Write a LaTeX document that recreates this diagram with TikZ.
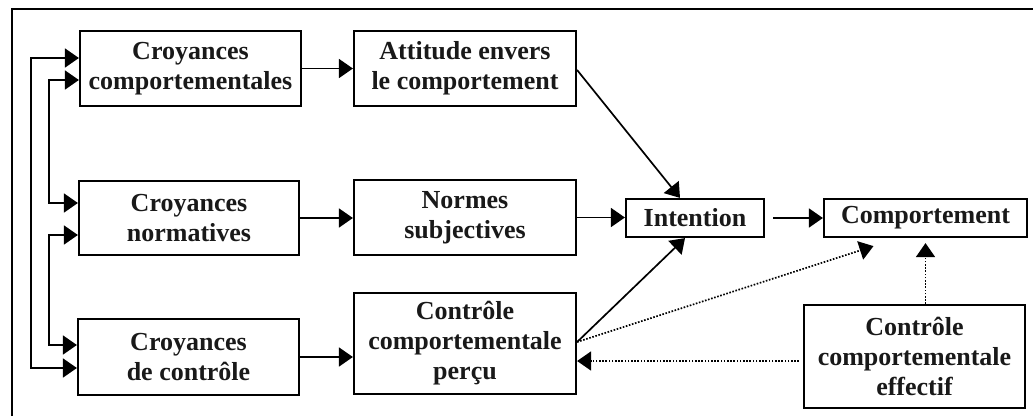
\documentclass[tikz,border=0pt]{standalone}
\usepackage{fontspec}
\setmainfont{Liberation Serif}
\usetikzlibrary{arrows.meta,calc}
\begin{document}
\begin{tikzpicture}[x=1pt,y=-1pt,
  box/.style={draw, line width=2.2pt, align=center, inner sep=0pt,
    font=\fontsize{26}{30}\selectfont\bfseries, text=black!90},
  arr/.style={line width=1.7pt, -{Triangle[length=14pt,width=19pt]}},
  biarr/.style={line width=1.7pt, {Triangle[length=14pt,width=19pt]}-{Triangle[length=14pt,width=19pt]}},
  dotarr/.style={line width=1.7pt, dash pattern=on 1.6pt off 1.6pt, -{Triangle[length=14pt,width=19pt]}}]
\useasboundingbox (0,0) rectangle (1033,416);
\fill[white] (0,0) rectangle (1033,416);
% frame
\draw[line width=2.2pt] (12,416) -- (12,9) -- (1033,9);
% nodes
\node[box, minimum width=221pt, minimum height=75pt] (CB) at (190.5,68.5) {Croyances\\comportementales};
\node[box, minimum width=220pt, minimum height=74pt] (CN) at (189,218) {Croyances\\normatives};
\node[box, minimum width=221pt, minimum height=76pt] (CC) at (188.5,357) {Croyances\\de contrôle};
\node[box, minimum width=222pt, minimum height=75pt] (AT) at (465,68.5) {Attitude envers\\le comportement};
\node[box, minimum width=222pt, minimum height=75pt] (NS) at (465,217.5) {Normes\\subjectives};
\node[box, minimum width=222pt, minimum height=101pt] (CP) at (465,343.5) {Contrôle\\comportementale\\perçu};
\node[box, minimum width=138pt, minimum height=38pt] (IN) at (695,218) {Intention};
\node[box, minimum width=203pt, minimum height=38pt] (CO) at (925.5,218) {Comportement};
\node[box, minimum width=221pt, minimum height=103pt] (EF) at (914.5,356.5) {Contrôle\\comportementale\\effectif};
% helper coordinates
\coordinate (efw) at ($(EF.west)+(-4,4.5)$);
\coordinate (cpe) at ($(CP.east)+(0,-1.5)$);
% left connectors
\draw[biarr] ($(CB.west)+(0,-10.5)$) -- ++(-48,0) |- ($(CC.west)+(0,11)$);
\draw[biarr] ($(CB.west)+(0,11.5)$) -- ++(-30,0) |- ($(CN.west)+(0,-15)$);
\draw[biarr] ($(CN.west)+(0,17)$) -- ++(-29,0) |- ($(CC.west)+(0,-12)$);
% horizontal
\draw[arr] (CB.east) -- (CB.east -| AT.west);
\draw[arr] (CN.east) -- (CN.east -| NS.west);
\draw[arr] (CC.east) -- (CC.east -| CP.west);
\draw[arr] (NS.east) -- (NS.east -| IN.west);
\draw[arr] ($(IN.east)+(8,0)$) -- (CO.west);
% diagonals
\draw[arr] ($(AT.east)+(0,1.5)$) -- ($(IN.north)+(-15,0)$);
\draw[arr] (cpe) -- ($(IN.south)+(-10,0)$);
\draw[dotarr] (cpe) -- ($(CO.south)+(-52,8)$);
\draw[dotarr] (CO.south |- EF.north) -- ($(CO.south)+(0,5)$);
\draw[dotarr] (efw) -- (efw -| CP.east);
\end{tikzpicture}
\end{document}
